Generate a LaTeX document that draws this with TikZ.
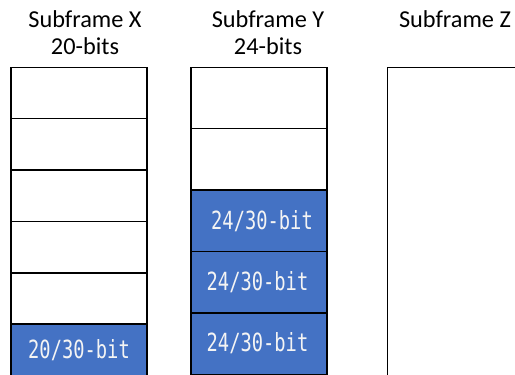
\documentclass[tikz,border=0pt]{standalone}
\usepackage{fontspec}
\setmainfont{Carlito}
\newfontfamily\bitfont[FakeStretch=0.75]{DejaVu Sans Mono}
\usetikzlibrary{positioning}
\definecolor{cellblue}{HTML}{4472C4}
\definecolor{celltext}{HTML}{F4F4F4}

\begin{document}
\begin{tikzpicture}[x=1bp,y=-1bp,
  cell/.style={draw=black, line width=1.5bp, fill=white, minimum width=136bp,
    inner sep=0pt, outer sep=0pt},
  xcell/.style={cell, minimum height=51.37bp},
  ycell/.style={cell, minimum height=61.4bp},
  bitcell/.style={fill=cellblue, text=celltext,
    font=\bitfont\fontsize{25bp}{28bp}\selectfont},
  head/.style={font=\fontsize{24.3bp}{26.5bp}\selectfont, align=center,
    inner sep=0pt, anchor=base}]
\useasboundingbox (0,0) rectangle (515,374);
\clip (0,0) rectangle (515,374);

% headings (anchored on the baseline of their last line)
\node[head] (hx) at (85,54) {Subframe X\\20-bits};
\node[head] (hy) at (268,54) {Subframe Y\\24-bits};
\node[head] (hz) at (455,27.5) {Subframe Z};

% subframe X: six 20-bit slots
\node[xcell] (x1) at (79,93) {};
\node[xcell, below=0pt of x1] (x2) {};
\node[xcell, below=0pt of x2] (x3) {};
\node[xcell, below=0pt of x3] (x4) {};
\node[xcell, below=0pt of x4] (x5) {};
\node[xcell, bitcell, below=0pt of x5] (x6) {20/30-bit};

% subframe Y: five 24-bit slots
\node[ycell] (y1) at (259,98) {};
\node[ycell, below=0pt of y1] (y2) {};
\node[ycell, bitcell, below=0pt of y2] (y3) {\hspace*{6bp}24/30-bit};
\node[ycell, bitcell, below=0pt of y3] (y4) {\hspace*{-3bp}24/30-bit};
\node[ycell, bitcell, below=0pt of y4] (y5) {\hspace*{-3bp}24/30-bit};

% subframe Z: one wide slot running off the frame
\node[cell, minimum width=200bp, minimum height=400bp, anchor=north west]
  (z1) at (387.7,67.3) {};
\end{tikzpicture}
\end{document}
